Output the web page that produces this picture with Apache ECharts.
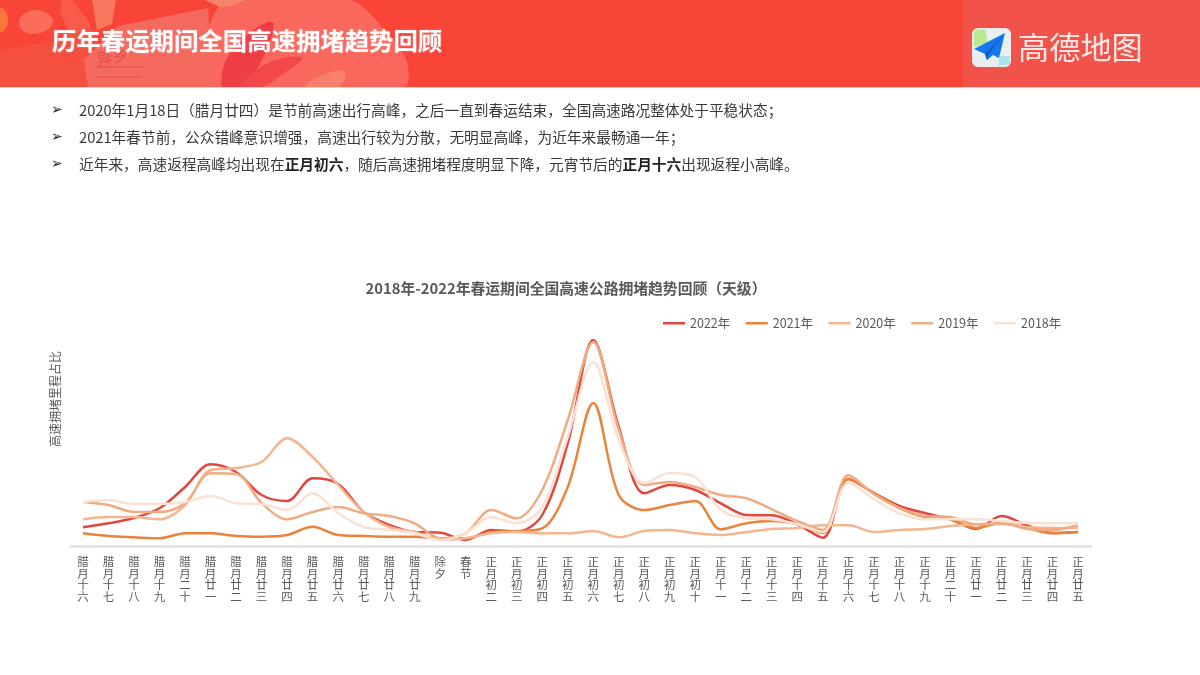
<!DOCTYPE html>
<html>
<head>
<meta charset="utf-8">
<title>历年春运期间全国高速拥堵趋势回顾</title>
<style>
  html, body { margin: 0; padding: 0; background: #fff; }
  #main { width: 1200px; height: 675px; }
</style>
<script src="https://cdn.jsdelivr.net/npm/echarts@6/dist/echarts.min.js"></script>
</head>
<body>
<div id="main"></div>
<script>
// Chart data (height above the axis)
var days = ['腊月十六', '腊月十七', '腊月十八', '腊月十九', '腊月二十', '腊月廿一', '腊月廿二', '腊月廿三', '腊月廿四', '腊月廿五',
  '腊月廿六', '腊月廿七', '腊月廿八', '腊月廿九', '除夕', '春节', '正月初二', '正月初三', '正月初四', '正月初五',
  '正月初六', '正月初七', '正月初八', '正月初九', '正月初十', '正月十一', '正月十二', '正月十三', '正月十四', '正月十五',
  '正月十六', '正月十七', '正月十八', '正月十九', '正月二十', '正月廿一', '正月廿二', '正月廿三', '正月廿四', '正月廿五'];

var y2022 = [18.7, 22.7, 28, 37.7, 59, 81.7, 74, 51, 45, 67.7, 62, 34, 21, 14, 13.3, 6, 16, 14.3, 31, 102.7,
  206, 119, 52.7, 61, 56, 42.7, 31, 30.7, 21.7, 8.3, 67, 53, 40, 33, 26.7, 17, 30, 20.7, 13, 14];
var y2021 = [12.7, 10, 8.7, 7.7, 12.7, 12.7, 10, 9.3, 11, 19.3, 11, 10, 9.3, 9.3, 7.7, 7.7, 14, 15, 17.7, 59,
  143, 51, 36, 41, 45, 16.7, 22.7, 25, 21.7, 13, 67, 53, 38, 29, 26.7, 18, 23, 18, 12.7, 14];
var y2020 = [26.7, 29, 29, 26.7, 41, 76, 78, 84, 107.7, 89, 61, 34, 19, 14, 6, 7.7, 12.7, 14, 12.7, 12.7,
  15, 8.7, 15, 16, 12.7, 11, 14, 17, 18, 20.7, 20.7, 14, 16, 17, 20, 21.7, 22, 19, 18, 18];
var y2019 = [44, 41, 34, 34, 43, 72.7, 72, 43, 26.7, 34, 39, 32.7, 30, 22.7, 7.7, 12.7, 36, 27.7, 56, 126,
  204, 116, 61, 64, 59, 51, 47.7, 36.7, 25, 16, 70.7, 51.7, 38, 30, 29, 21.7, 23, 17, 16, 20.7];
var y2018 = [44, 46, 42, 42, 44, 50, 42.7, 42, 36, 52.7, 32.7, 19, 16, 12.7, 6, 12.7, 29, 22.7, 39, 109,
  184, 106, 62.7, 73, 69, 36, 27.7, 26.7, 21.7, 14, 63, 46.7, 32.7, 26.7, 26.7, 26.7, 25, 23, 22.7, 23];

var seriesNames = ['2022年', '2021年', '2020年', '2019年', '2018年'];
var seriesValues = [y2022, y2021, y2020, y2019, y2018];
var seriesColors = ['#E2473F', '#E9843C', '#F3B68F', '#EFAC80', '#FBE1D4'];

var headline = '历年春运期间全国高速拥堵趋势回顾';
var logoText = '高德地图';
var bullets = [
  '2020年1月18日（腊月廿四）是节前高速出行高峰，之后一直到春运结束，全国高速路况整体处于平稳状态；',
  '2021年春节前，公众错峰意识增强，高速出行较为分散，无明显高峰，为近年来最畅通一年；',
  '近年来，高速返程高峰均出现在{b|正月初六}，随后高速拥堵程度明显下降，元宵节后的{b|正月十六}出现返程小高峰。'
];

var fontName = '"Noto Sans CJK SC", "Noto Sans", sans-serif';

/**
 * @name banner
 * @desc red header band, its rough artwork and the logo
 * @return {array} graphic elements
 */
function banner() {
  var items = [
    { type: 'rect', shape: { x: 0, y: 0, width: 1200, height: 87 }, style: { fill: '#F94438' } },
    { type: 'rect', shape: { x: 963, y: 0, width: 237, height: 87 }, style: { fill: '#F1524A' } },

    // artwork on the left
    { type: 'polygon', shape: { points: [[0, 87], [0, 50], [58, 40], [92, 26], [92, 87]] }, style: { fill: '#F5503F' } },
    { type: 'polygon', shape: { smooth: 0.4, points: [[20, 18], [36, 10], [52, 18], [50, 28], [34, 34], [22, 30]] }, style: { fill: '#FB6C5B' } },
    { type: 'polygon', shape: { smooth: 0.4, points: [[0, 8], [7, 14], [7, 26], [0, 32]] }, style: { fill: '#F9753A' } },
    { type: 'polygon', shape: { points: [[62, 0], [72, 0], [92, 26], [70, 36], [60, 12]] }, style: { fill: '#F85A4C' } },
    { type: 'polygon', shape: { smooth: 0.3, points: [[225, 0], [350, 0], [388, 34], [407, 62], [404, 87], [210, 87]] }, style: { fill: '#FA675C' } },
    { type: 'polygon', shape: { points: [[84, 60], [118, 26], [208, 8], [213, 87], [88, 87]] }, style: { fill: '#F56A5F' } },
    { type: 'polygon', shape: { points: [[92, 0], [116, 0], [112, 24], [97, 30]] }, style: { fill: '#F8775F' } },
    { type: 'polygon', shape: { smooth: 0.4, points: [[222, 87], [232, 50], [272, 22], [262, 60], [240, 87]] }, style: { fill: '#EF3D45' } },
    { type: 'polygon', shape: { smooth: 0.4, points: [[240, 87], [270, 62], [302, 58], [280, 76], [262, 87]] }, style: { fill: '#F2484A' } },
    { type: 'polygon', shape: { smooth: 0.4, points: [[305, 87], [325, 74], [345, 72], [338, 87]] }, style: { fill: '#F7806A' } },
    { type: 'polygon', shape: { points: [[205, 0], [246, 0], [232, 6], [220, 7]] }, style: { fill: '#F5846B' } },
    { type: 'text', x: 95, y: 52, rotation: 0.2, style: { text: '异乡', fill: '#E84F48', font: '16px ' + fontName } },
    { type: 'rect', shape: { x: 96, y: 66, width: 48, height: 2 }, style: { fill: '#EE5A52' } },
    { type: 'rect', shape: { x: 96, y: 76, width: 45, height: 2 }, style: { fill: '#EE5A52' } },

    // cut the smooth shapes off at the band's lower edge
    { type: 'rect', shape: { x: 0, y: 87, width: 1200, height: 14 }, style: { fill: '#fff' } },
    { type: 'rect', shape: { x: 0, y: 87, width: 1200, height: 1 }, style: { fill: '#FBC9C4' } },

    // headline
    { type: 'text', x: 52, y: 41, style: {
      text: headline, fill: '#fff', font: 'bold 24.4px ' + fontName, verticalAlign: 'middle',
      textShadowColor: 'rgba(255,255,255,0.35)', textShadowBlur: 2
    } },

    // logo icon
    { type: 'rect', shape: { x: 972, y: 28, width: 39, height: 39, r: 6 }, style: { fill: '#E9EFF1' } },
    { type: 'polygon', shape: { points: [[974, 30], [985, 29], [988, 43], [974, 47]] }, style: { fill: '#B9E88F' } },
    { type: 'polygon', shape: { points: [[1000, 56], [1010, 56], [1010, 64], [998, 66]] }, style: { fill: '#A9E5F1' } },
    { type: 'polygon', shape: { points: [[1005, 33], [974, 49], [985, 54], [987, 60], [993, 55], [999, 58]] }, style: { fill: '#1677EC' } },
    { type: 'polygon', shape: { points: [[1005, 33], [985, 54], [987, 60], [990, 52]] }, style: { fill: '#0D5FC9' } },
    { type: 'text', x: 1018, y: 47, style: {
      text: logoText, fill: '#FCE9E6', font: '31.2px ' + fontName, verticalAlign: 'middle'
    } }
  ];
  return items;
}

/**
 * @name notes
 * @desc three bullet lines under the band
 * @return {array} graphic elements
 */
function notes() {
  var i,
    rowY = [110, 137, 164],
    items = [];

  for (i = 0; i < bullets.length; i++) {
    items.push({ type: 'text', x: 51, y: rowY[i], style: {
      text: '➢', fill: '#222', font: '14px "DejaVu Sans"', verticalAlign: 'middle'
    } });
    items.push({ type: 'text', x: 79, y: rowY[i], style: {
      text: bullets[i], fill: '#3A3A3A', font: '14.7px ' + fontName, verticalAlign: 'middle',
      rich: { b: { fontWeight: 'bold', fill: '#222', fontSize: 14.7, fontFamily: fontName } }
    } });
  }
  return items;
}

/**
 * @name paint
 * @desc paint the page
 * @return {void}
 */
function paint() {
  var myChart = echarts.init(document.getElementById('main'), null, { renderer: 'canvas' });

  var option = {
    animation: false,
    backgroundColor: '#fff',
    textStyle: { fontFamily: fontName },
    graphic: { elements: banner().concat(notes()) },
    title: {
      text: '2018年-2022年春运期间全国高速公路拥堵趋势回顾（天级）',
      left: 561,
      top: 276,
      textAlign: 'center',
      textStyle: { fontSize: 14.8, fontWeight: 'bold', color: '#595959', fontFamily: fontName }
    },
    legend: {
      data: seriesNames,
      left: 658,
      top: 312,
      icon: 'rect',
      itemWidth: 22,
      itemHeight: 2.5,
      itemGap: 15.5,
      textStyle: { fontSize: 12.5, color: '#595959', fontFamily: fontName }
    },
    grid: { left: 70.25, right: 109.25, top: 336, bottom: 129 },
    xAxis: {
      type: 'category',
      data: days,
      axisLine: { lineStyle: { color: '#E0E0E0', width: 2.5 } },
      axisTick: { show: false },
      axisLabel: {
        interval: 0,
        margin: 10,
        fontSize: 11.5,
        lineHeight: 11.5,
        color: '#595959',
        formatter: function (value) {
          return value.split('').join('\n');
        }
      }
    },
    yAxis: {
      type: 'value',
      min: 0,
      max: 210,
      offset: 15,
      name: '高速拥堵里程占比',
      nameLocation: 'end',
      nameRotate: 90,
      nameGap: -111,
      nameTextStyle: { fontSize: 12, color: '#595959' },
      axisLine: { show: false },
      axisTick: { show: false },
      axisLabel: { show: false },
      splitLine: { show: false }
    },
    series: seriesNames.map(function (name, i) {
      return {
        name: name,
        type: 'line',
        data: seriesValues[i],
        smooth: 0.33,
        symbol: 'none',
        itemStyle: { color: seriesColors[i] },
        lineStyle: { color: seriesColors[i], width: 2.5 }
      };
    })
  };

  myChart.setOption(option);
}

paint();
</script>
</body>
</html>
